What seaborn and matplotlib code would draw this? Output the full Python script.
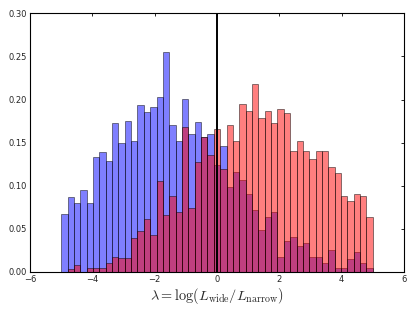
import numpy as np
import pandas as pd
import matplotlib
matplotlib.use("Agg")
import matplotlib.pyplot as plt
import seaborn as sns

# 49 equal bins between -5 and 5
bin_lo, bin_hi, n_bins = -5.0, 5.0, 49

# normalised heights per bin (left to right)
blue_heights = [
    0.0667, 0.0872, 0.0795, 0.0950, 0.0795, 0.1337, 0.1390, 0.1287, 0.1726, 0.1490,
    0.1750, 0.1524, 0.1935, 0.1857, 0.1910, 0.2035, 0.2555, 0.1700, 0.1524, 0.2010,
    0.1597, 0.1744, 0.1570, 0.1597, 0.1240, 0.1465, 0.0980, 0.1158, 0.1060, 0.0900,
    0.0717, 0.0485, 0.0640, 0.0694, 0.0175, 0.0357, 0.0407, 0.0302, 0.0330, 0.0171,
    0.0171, 0.0097, 0.0252, 0.0047, 0.0047, 0.0147, 0.0229, 0.0097, 0.0047,
]
red_heights = [
    0.0000, 0.0030, 0.0075, 0.0000, 0.0047, 0.0047, 0.0047, 0.0097, 0.0175, 0.0155,
    0.0155, 0.0396, 0.0473, 0.0609, 0.0423, 0.1058, 0.0660, 0.0877, 0.0690, 0.1680,
    0.0740, 0.1276, 0.1565, 0.1357, 0.1656, 0.1194, 0.1706, 0.1520, 0.1946, 0.1870,
    0.2180, 0.1780, 0.1870, 0.1730, 0.1890, 0.1840, 0.1407, 0.1516, 0.1407, 0.1307,
    0.1407, 0.1407, 0.1220, 0.1144, 0.0880, 0.0822, 0.0903, 0.0880, 0.0633,
]

edges = np.linspace(bin_lo, bin_hi, n_bins + 1)
centers = 0.5 * (edges[:-1] + edges[1:])
df = pd.DataFrame({"lam": centers, "blue": blue_heights, "red": red_heights})

sns.set_style("white")
plt.rcParams["mathtext.fontset"] = "cm"
plt.rcParams["font.family"] = ["DejaVu Sans"]

fig = plt.figure(figsize=(4.15, 3.12), dpi=100)
ax = fig.add_axes([0.0723, 0.129, 0.9012, 0.828])

for col, c in [("blue", "blue"), ("red", "red")]:
    sns.histplot(data=df, x="lam", weights=col, bins=n_bins,
                 binrange=(bin_lo, bin_hi), stat="count",
                 color=c, alpha=0.5, edgecolor=(0, 0, 0, 0.55), linewidth=0.6, ax=ax)

ax.axvline(0, color="k", lw=1.4)

ax.set_xlim(-6, 6)
ax.set_ylim(0, 0.30)
ax.set_xticks(np.arange(-6, 7, 2))
ax.set_yticks(np.arange(0, 0.31, 0.05))
ax.yaxis.set_major_formatter(matplotlib.ticker.FormatStrFormatter("%.2f"))
ax.tick_params(direction="in", length=2.5, width=0.6, labelsize=6,
               top=True, right=True, pad=2, color="k")
for sp in ax.spines.values():
    sp.set_color("k")
    sp.set_linewidth(0.8)

ax.set_ylabel("")
ax.set_xlabel(r"$\lambda = \log(L_{\rm wide}/L_{\rm narrow})$", fontsize=10.3, labelpad=1.5)

fig.savefig("out.png", dpi=100, facecolor="white")
